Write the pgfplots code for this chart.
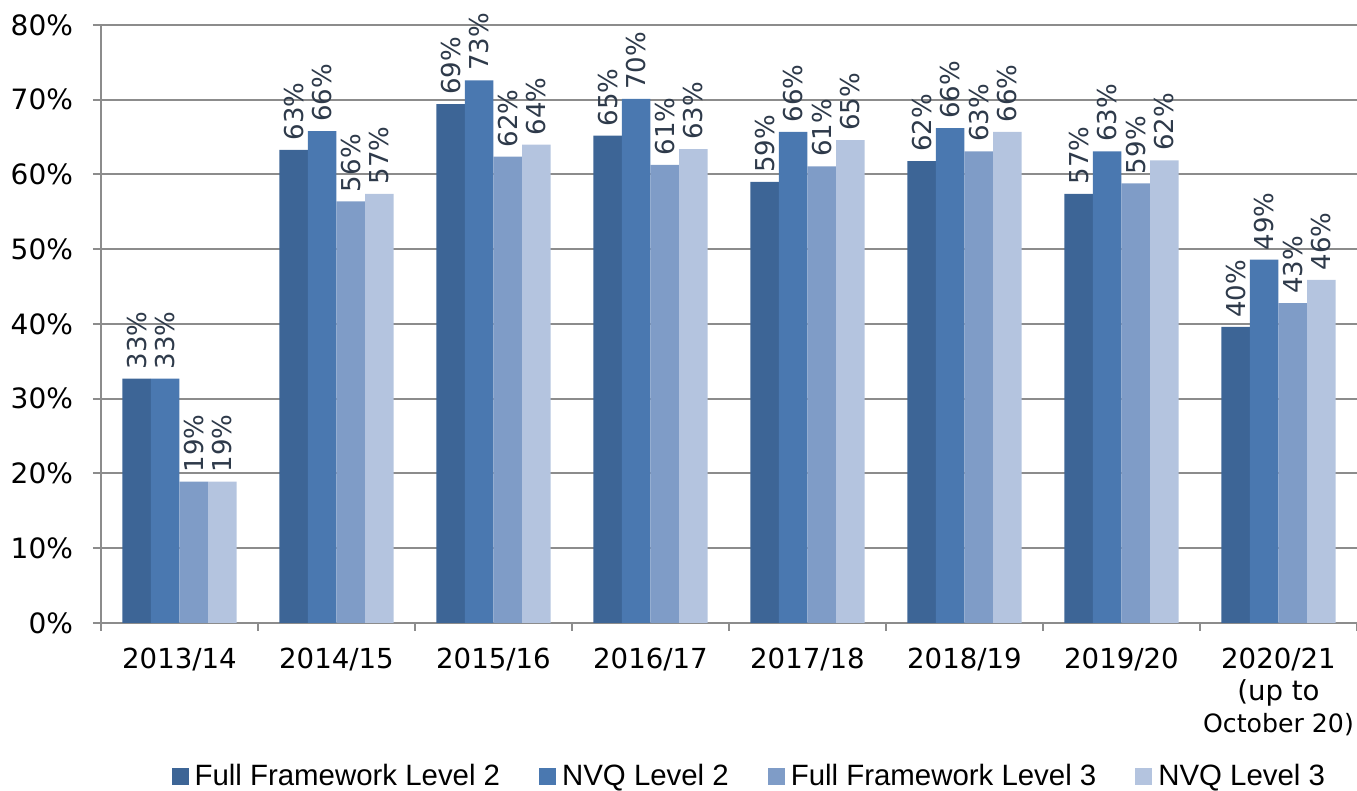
\documentclass[border=0pt]{standalone}
\usepackage{pgfplots}
\pgfplotsset{compat=1.18}
\usepackage{fontspec}
\setmainfont{DejaVu Sans}
\newfontfamily\legfont{Liberation Sans}
\definecolor{c1}{HTML}{3D6596}
\definecolor{c2}{HTML}{4A78B0}
\definecolor{c3}{HTML}{7F9CC7}
\definecolor{c4}{HTML}{B4C4DF}
\definecolor{gridgray}{HTML}{8C8C8C}
\definecolor{labelc}{HTML}{2E3A4A}
\begin{document}
\begin{tikzpicture}
\useasboundingbox (0,0) rectangle (678.5pt,395.5pt);
\begin{axis}[
  at={(50.5pt,84pt)}, anchor=south west,
  width=628pt, height=299pt, scale only axis,
  ybar=0pt, bar width=14.3pt,
  xmin=-0.5, xmax=7.5, ymin=0, ymax=80,
  axis x line*=bottom, axis y line*=left,
  axis line style={draw=gridgray, line width=1pt},
  /pgf/number format/assume math mode=true,
  ytick={0,10,...,80},
  yticklabel={\pgfmathprintnumber{\tick}\%},
  ymajorgrids, grid style={gridgray, line width=1pt},
  xtick={0,...,7},
  xticklabels={2013/14,2014/15,2015/16,2016/17,2017/18,2018/19,2019/20,{2020/21\\(up to\\{\fontsize{12.6}{16}\selectfont October 20)}}},
  x tick label style={align=center, font=\fontsize{13.8}{16}\selectfont, yshift=-5pt},
  y tick label style={font=\fontsize{14}{16}\selectfont, xshift=-6.5pt},
  minor xtick={-0.5,0.5,...,7.5},
  tick align=outside,
  major tick length=4pt, minor tick length=4pt,
  major x tick style={draw=none},
  every tick/.style={gridgray, line width=1pt},
  minor tick style={gridgray, line width=1pt},
  clip=false,
  nodes near coords={\pgfmathprintnumber[fixed,precision=0]{\pgfplotspointmeta}\%},
  every node near coord/.append style={rotate=90, anchor=west, font=\fontsize{13}{15}\selectfont, color=labelc, inner sep=1pt, xshift=3.5pt},
  legend image code/.code={\fill[#1] (0pt,-4.25pt) rectangle (8.5pt,4.25pt); \path (9.5pt,0pt);},
  legend style={at={(0.517,-0.256)}, anchor=center, draw=none, font=\legfont\fontsize{14.7}{17}\selectfont, /tikz/every even column/.append style={column sep=17.5pt}},
  legend columns=4,
]
\addplot[fill=c1, draw=none] coordinates {(0,32.7) (1,63.3) (2,69.4) (3,65.2) (4,59.0) (5,61.8) (6,57.4) (7,39.6)};
\addplot[fill=c2, draw=none] coordinates {(0,32.7) (1,65.8) (2,72.6) (3,70.1) (4,65.7) (5,66.2) (6,63.1) (7,48.6)};
\addplot[fill=c3, draw=none] coordinates {(0,18.9) (1,56.4) (2,62.4) (3,61.3) (4,61.1) (5,63.1) (6,58.8) (7,42.8)};
\addplot[fill=c4, draw=none] coordinates {(0,18.9) (1,57.4) (2,64.0) (3,63.4) (4,64.6) (5,65.7) (6,61.9) (7,45.9)};
\legend{Full Framework Level 2, NVQ Level 2, Full Framework Level 3, NVQ Level 3}
\end{axis}
\end{tikzpicture}
\end{document}
